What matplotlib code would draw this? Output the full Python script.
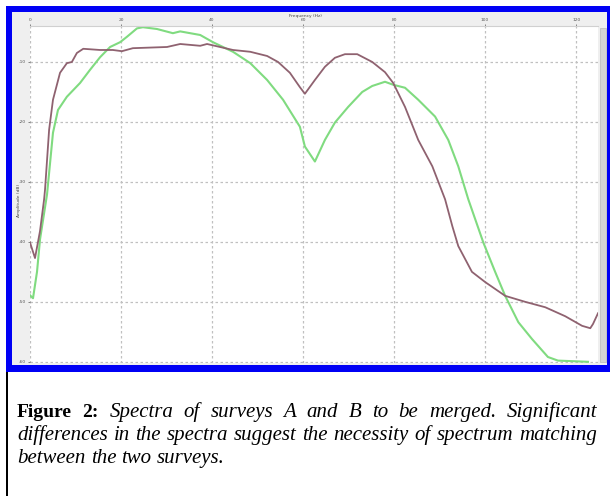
import matplotlib
matplotlib.use("Agg")
import matplotlib.pyplot as plt
from matplotlib.patches import Rectangle

# ---------------- data ----------------
freq_a = [0, 1.1, 2.2, 3.1, 3.3, 4.2, 5.05, 6.6, 8.1, 9.2, 10.3, 11.7, 15.4, 18.2,
          20.2, 22.6, 30.1, 33.0, 37.4, 38.9, 44.6, 48.4, 52.1, 54.5, 57.1, 59.3,
          60.4, 62.6, 64.8, 67.0, 69.2, 71.9, 75.2, 78.0, 79.8, 82.4, 85.3, 88.4,
          91.2, 92.8, 94.1, 97.1, 100.0, 104.4, 108.8, 113.2, 117.6, 121.3, 123.1,
          123.7, 124.8]
amp_a = [-40.1, -42.7, -38.2, -32.9, -31.3, -21.3, -16.3, -11.8, -10.2, -10.0, -8.5,
         -7.8, -8.0, -8.0, -8.2, -7.7, -7.5, -7.0, -7.3, -7.0, -8.0, -8.3, -9.0, -10.0,
         -11.8, -14.2, -15.3, -13.0, -10.8, -9.3, -8.7, -8.7, -10.0, -11.7, -13.5,
         -17.5, -23.0, -27.4, -32.9, -37.4, -40.7, -45.0, -46.7, -49.0, -50.0, -50.9,
         -52.4, -54.0, -54.4, -53.7, -51.9]

freq_b = [0, 0.66, 1.54, 2.2, 3.74, 5.05, 6.15, 8.1, 11.0, 13.2, 15.4, 17.6, 19.8,
          21.3, 23.5, 24.8, 27.9, 31.4, 33.0, 37.4, 40.2, 44.6, 48.4, 52.1, 55.6,
          59.3, 60.4, 62.6, 64.8, 67.0, 69.9, 73.0, 75.2, 78.0, 79.8, 82.4, 85.3,
          89.0, 91.9, 94.1, 96.3, 99.6, 102.2, 104.4, 107.3, 110.3, 113.8, 116.0,
          122.6]
amp_b = [-48.9, -49.4, -45.0, -39.6, -32.1, -21.8, -18.0, -15.8, -13.5, -11.3, -9.2,
         -7.5, -6.7, -5.8, -4.4, -4.2, -4.5, -5.2, -4.9, -5.5, -6.7, -8.3, -10.2,
         -13.0, -16.3, -20.8, -24.1, -26.6, -23.0, -20.1, -17.5, -15.0, -14.0, -13.3,
         -13.8, -14.3, -16.3, -19.1, -23.0, -27.4, -32.9, -40.1, -45.0, -49.0, -53.4,
         -56.2, -59.2, -59.8, -60.0]

x_ticks = [0, 20, 40, 60, 80, 100, 120]
x_tick_labels = ["0", "20", "40", "60", "80", "100", "120"]
y_ticks = [-60, -50, -40, -30, -20, -10]
y_tick_labels = ["-60", "-50", "-40", "-30", "-20", "-10"]

x_title = "Frequency (Hz)"
y_title = "Amplitude (dB)"

caption_lines = [
    [("Figure", "bold"), ("2:", "bold"), ("Spectra", "it"), ("of", "it"),
     ("surveys", "it"), ("A", "it"), ("and", "it"), ("B", "it"), ("to", "it"),
     ("be", "it"), ("merged.", "it"), ("Significant", "it")],
    [(w, "it") for w in "differences in the spectra suggest the necessity of spectrum matching".split()],
    [(w, "it") for w in "between the two surveys.".split()],
]

# ---------------- figure ----------------
W, H = 610, 496
fig = plt.figure(figsize=(W / 100, H / 100), dpi=100)
fig.patch.set_facecolor("white")


def prect(x0, y0, x1, y1, **kw):
    """rectangle in figure pixel coords (y from top)."""
    r = Rectangle((x0 / W, 1 - y1 / H), (x1 - x0) / W, (y1 - y0) / H,
                  transform=fig.transFigure, **kw)
    fig.add_artist(r)
    return r


# blue frame and grey application background
prect(6, 6, 610, 372, facecolor="#0000f5", edgecolor="none", zorder=0)
prect(12, 12, 607, 365, facecolor="#efefef", edgecolor="none", zorder=0)
# black rule left of caption
prect(6, 372, 8, 496, facecolor="black", edgecolor="none", zorder=0)

# plot axes
L, R, T, B = 30, 598, 26, 363
ax = fig.add_axes([L / W, 1 - B / H, (R - L) / W, (B - T) / H])
ax.set_facecolor("white")
ax.plot(freq_a, amp_a, color="#8f6270", lw=1.3, zorder=3)
ax.plot(freq_b, amp_b, color="#80db80", lw=1.5, zorder=2)
ax.set_xlim(0, 124.8)
ax.set_ylim(-60.2, -4.0)
ax.set_xticks(x_ticks)
ax.set_xticklabels(x_tick_labels)
ax.set_yticks(y_ticks)
ax.set_yticklabels(y_tick_labels)
ax.xaxis.tick_top()
ax.tick_params(axis="both", labelsize=3.2, colors="#555555", length=1.5, width=0.5, pad=1.5)
ax.grid(True, linestyle=(0, (2, 2)), color="#c0c0c0", linewidth=0.9)
for s in ["left", "right", "bottom"]:
    ax.spines[s].set_visible(False)
ax.spines["top"].set_color("#d0d0d0")
ax.spines["top"].set_linewidth(0.8)

fig.text(305 / W, 1 - 16 / H, x_title, fontsize=3.2, color="#444444",
         ha="center", va="center")
fig.text(19 / W, 1 - 200 / H, y_title, fontsize=3.2, color="#444444",
         ha="center", va="center", rotation=90)

# scrollbar
prect(600, 28, 606, 362, facecolor="#d4d4d4", edgecolor="#b8b8b8", linewidth=0.5, zorder=1)

# ---------------- caption (justified) ----------------
renderer = fig.canvas.get_renderer()
fs_bold = 14.0
x_left, x_right = 17, 597
baselines = [417, 440, 463]


def make_text(word, style, x, ybase, fs):
    kw = dict(fontsize=fs, family="Liberation Serif", color="black",
              ha="left", va="baseline")
    if style == "bold":
        kw["fontweight"] = "bold"
        kw["fontsize"] = fs_bold
    else:
        kw["fontstyle"] = "italic"
    return fig.text(x / W, 1 - ybase / H, word, **kw)


# choose italic size so that line 2 (set with plain spaces) nearly fills the column
probe = fig.text(0, 0, "differences in the spectra suggest the necessity of spectrum matching",
                 fontsize=10, family="Liberation Serif", fontstyle="italic")
w10 = probe.get_window_extent(renderer).width
probe.remove()
fs_it = 10 * (x_right - x_left - 3) / w10

space_t = fig.text(0, 0, "a b", fontsize=fs_it, family="Liberation Serif", fontstyle="italic")
ab_t = fig.text(0, 0, "ab", fontsize=fs_it, family="Liberation Serif", fontstyle="italic")
space_w = space_t.get_window_extent(renderer).width - ab_t.get_window_extent(renderer).width
space_t.remove()
ab_t.remove()

for li, line in enumerate(caption_lines):
    texts = [make_text(w, s, 0, baselines[li], fs_it) for w, s in line]
    widths = [t.get_window_extent(renderer).width for t in texts]
    if li < len(caption_lines) - 1:
        gap = (x_right - x_left - sum(widths)) / (len(texts) - 1)
    else:
        gap = space_w
    x = x_left
    for t, w in zip(texts, widths):
        t.set_x(x / W)
        x += w + gap

fig.savefig("out.png", dpi=100)
